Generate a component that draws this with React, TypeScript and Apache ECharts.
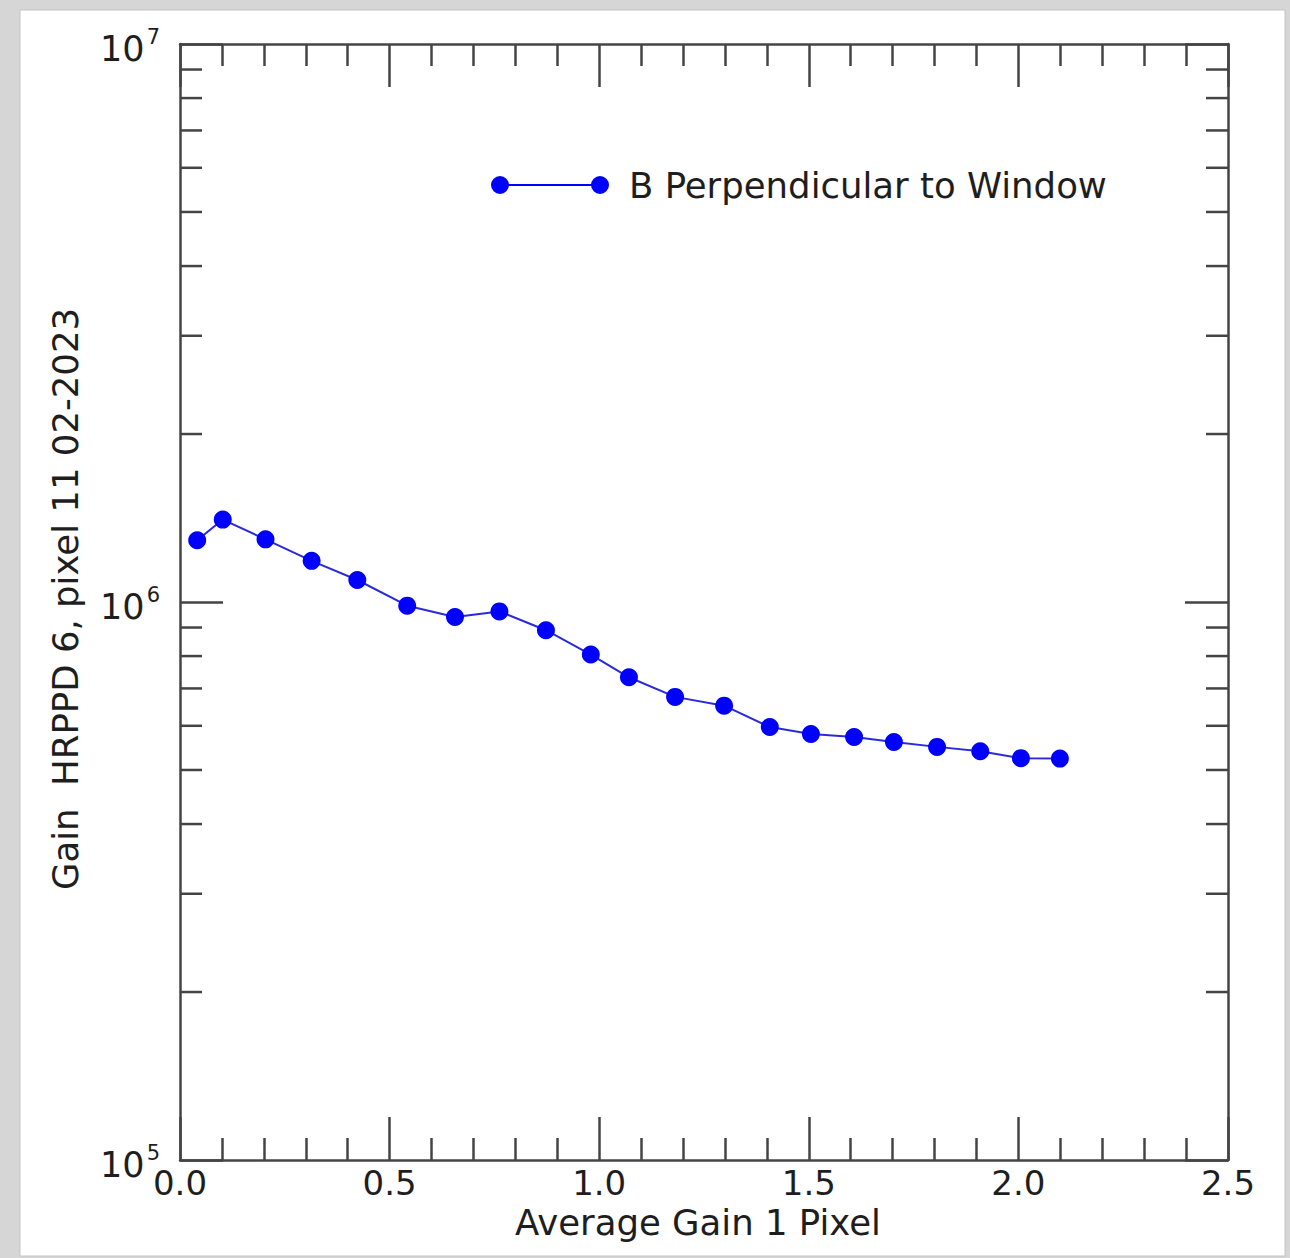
import React, { useEffect, useRef } from "react";
import * as echarts from "echarts";

const seriesName = "B Perpendicular to Window";
const xValues = [0.041, 0.102, 0.204, 0.314, 0.423, 0.542, 0.656, 0.762, 0.873, 0.98, 1.071, 1.181, 1.298, 1.407, 1.505, 1.608, 1.703, 1.806, 1.909, 2.006, 2.099];
const yValues = [1290000, 1405000, 1295000, 1185000, 1095000, 985000, 940000, 962000, 890000, 805000, 733000, 676000, 652000, 597000, 580000, 573000, 561000, 550000, 540000, 525000, 524000];
const yMinorTicks = [200000, 300000, 400000, 500000, 600000, 700000, 800000, 900000, 2000000, 3000000, 4000000, 5000000, 6000000, 7000000, 8000000, 9000000];
const xTickLabels = ["0.0", "0.5", "1.0", "1.5", "2.0", "2.5"];

const FONT = "DejaVu Sans";
const AXIS = "#444444";
const TEXT = "#1e1e1e";

export default function App() {
  const ref = useRef<HTMLDivElement>(null);
  useEffect(() => {
    if (!ref.current) return;
    const chart = echarts.init(ref.current, null, { renderer: "svg" });
    const xAxisBase = {
      type: "value",
      min: 0,
      max: 2.5,
      interval: 0.5,
      axisLine: { show: true, onZero: false, lineStyle: { color: AXIS, width: 2.5 } },
      axisTick: { show: true, inside: true, length: 43, lineStyle: { color: AXIS, width: 2.5 } },
      minorTick: { show: true, splitNumber: 5, length: 22, lineStyle: { color: AXIS, width: 2.5 } },
      splitLine: { show: false },
      minorSplitLine: { show: false },
    };
    const yAxisBase = {
      type: "log",
      logBase: 10,
      min: 100000,
      max: 10000000,
      axisLine: { show: true, onZero: false, lineStyle: { color: AXIS, width: 2.5 } },
      axisTick: { show: true, inside: true, length: 43, lineStyle: { color: AXIS, width: 2.5 } },
      splitLine: { show: false },
    };
    const data = xValues.map((x, i) => [x, yValues[i]]);
    const option = {
      animation: false,
      backgroundColor: "#d6d6d6",
      textStyle: { fontFamily: FONT },
      graphic: [
        {
          type: "rect",
          z: -100,
          silent: true,
          shape: { x: 20, y: 10, width: 1265, height: 1246 },
          style: { fill: "#ffffff", stroke: "#c4c4c4", lineWidth: 1 },
        },
      ],
      grid: { left: 180, right: 62, top: 44, bottom: 98, containLabel: false },
      legend: {
        data: [seriesName],
        left: 491,
        top: 167,
        padding: 0,
        itemWidth: 118,
        itemHeight: 20,
        icon: "path://M0,10 A9,9 0 1,1 18,10 A9,9 0 1,1 0,10 Z M100,10 A9,9 0 1,1 118,10 A9,9 0 1,1 100,10 Z M9,9 L109,9 L109,11 L9,11 Z",
        textStyle: { fontFamily: FONT, fontSize: 35.5, color: TEXT, padding: [0, 0, 0, 15] },
      },
      xAxis: [
        {
          ...xAxisBase,
          position: "bottom",
          name: "Average Gain 1 Pixel",
          nameLocation: "middle",
          nameGap: 43,
          nameTextStyle: { fontFamily: FONT, fontSize: 35.5, color: TEXT, padding: [0, 12, 0, 0] },
          axisLabel: {
            show: true,
            margin: 6,
            fontFamily: FONT,
            fontSize: 34,
            color: TEXT,
            formatter: (v: number) => {
              const idx = Math.round(v / 0.5);
              return xTickLabels[idx] ?? v.toFixed(1);
            },
          },
        },
        {
          ...xAxisBase,
          position: "top",
          axisLabel: { show: false },
        },
      ],
      yAxis: [
        {
          ...yAxisBase,
          position: "left",
          name: "Gain  HRPPD 6, pixel 11 02-2023",
          nameLocation: "middle",
          nameGap: 97,
          nameRotate: 90,
          nameTextStyle: { fontFamily: FONT, fontSize: 35.5, color: TEXT, padding: [0, 0, 0, 6] },
          axisLabel: {
            show: true,
            margin: 20,
            fontFamily: FONT,
            fontSize: 35,
            lineHeight: 46,
            padding: [10, 0, 0, 0],
            color: TEXT,
            formatter: (v: number) => {
              const e = Math.round(Math.log10(v));
              return "10{sup|" + e + "}";
            },
            rich: {
              sup: { fontFamily: FONT, fontSize: 21, lineHeight: 21, verticalAlign: "top", color: TEXT, padding: [0, 0, 0, 2] },
            },
          },
        },
        {
          ...yAxisBase,
          position: "right",
          axisLabel: { show: false },
        },
      ],
      series: [
        {
          name: seriesName,
          type: "line",
          xAxisIndex: 0,
          yAxisIndex: 0,
          data,
          symbol: "circle",
          symbolSize: 18,
          lineStyle: { color: "#2a2ad8", width: 2 },
          itemStyle: { color: "#0000ff" },
          z: 5,
        },
        {
          name: "yMinorTicks",
          type: "custom",
          xAxisIndex: 0,
          yAxisIndex: 0,
          silent: true,
          clip: false,
          data: yMinorTicks.map((v) => [0, v]),
          renderItem: (params: any, api: any) => {
            const v = api.value(1);
            const pl = api.coord([0, v]);
            const pr = api.coord([2.5, v]);
            const style = { stroke: AXIS, lineWidth: 2.5 };
            return {
              type: "group",
              children: [
                { type: "line", shape: { x1: pl[0], y1: pl[1], x2: pl[0] + 22, y2: pl[1] }, style },
                { type: "line", shape: { x1: pr[0] - 22, y1: pr[1], x2: pr[0], y2: pr[1] }, style },
              ],
            };
          },
        },
      ],
    };
    chart.setOption(option as any);
    return () => chart.dispose();
  }, []);
  return (
    <div style={{ position: "absolute", left: 0, top: 0, width: 1290, height: 1258 }}>
      <div ref={ref} style={{ width: 1290, height: 1258 }} />
    </div>
  );
}
